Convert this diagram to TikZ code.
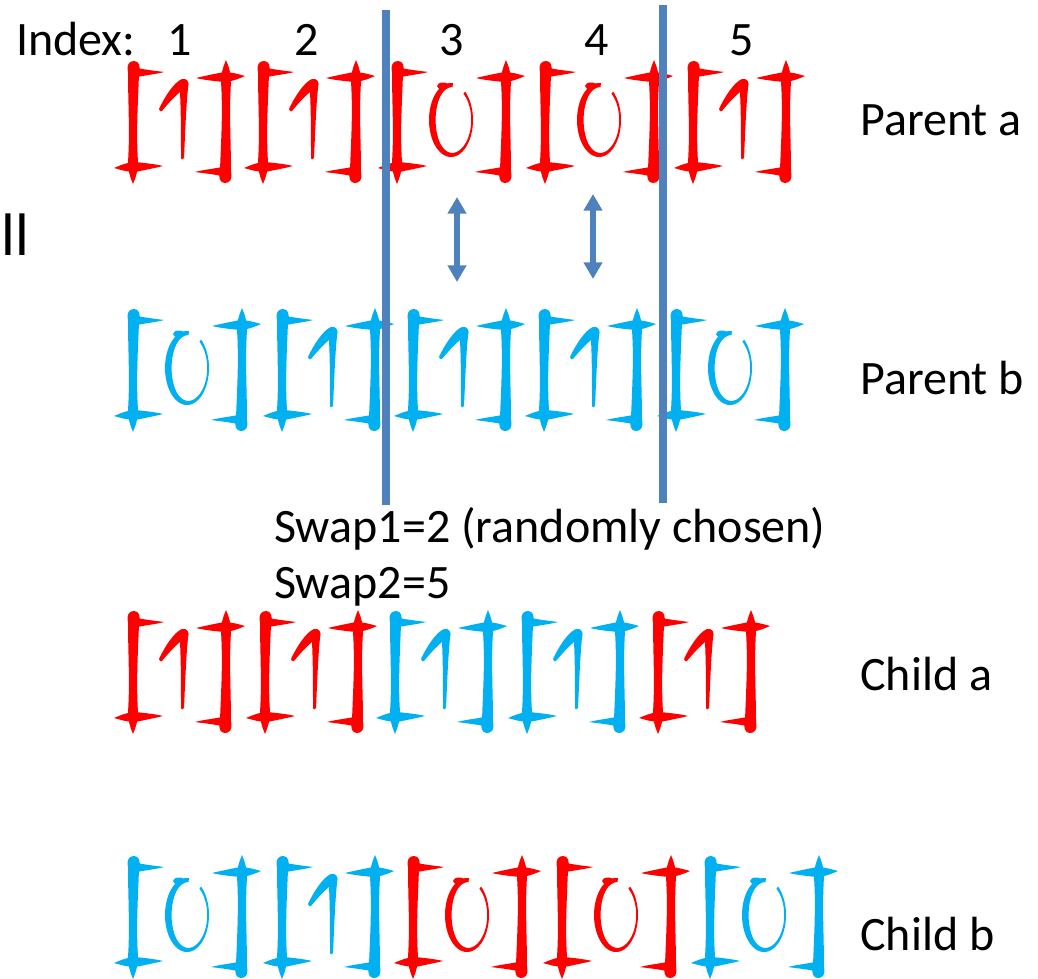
\documentclass[tikz,border=0pt]{standalone}
\usepackage{fontspec}
\setmainfont{Carlito}
\usetikzlibrary{arrows.meta}
\definecolor{bred}{HTML}{FF0000}
\definecolor{bblue}{HTML}{00B0F0}
\definecolor{lineblue}{HTML}{4F81BD}
\newcommand\brkshape{%
  \fill (-5,-50) .. controls (-7,-58) and (-3,-61) .. (1,-61) .. controls (6,-61) and (8,-56) .. (6,-48)
    .. controls (5,-20) and (3,10) .. (5,40) .. controls (5,50) and (2,57) .. (0,62)
    .. controls (-2,57) and (-5,50) .. (-5,40) .. controls (-3,10) and (-5,-20) .. (-5,-50) -- cycle;
  \fill (4,-54) .. controls (14,-52) and (24,-51) .. (31,-50) .. controls (24,-48) and (14,-47) .. (4,-45) -- cycle;
  \fill (-19,46) .. controls (-10,42) and (-3,40) .. (2,40) .. controls (12,41) and (22,42) .. (30,44)
    .. controls (22,46) and (12,48) .. (2,50) .. controls (-5,50) and (-12,48) .. (-19,46) -- cycle;
}
\newcommand\onedigit{%
  \fill (26,-13) .. controls (31,-24) and (41,-40) .. (49,-43) .. controls (54,-44) and (57,-40) .. (55,-34)
    .. controls (53,-15) and (52,15) .. (51,36) .. controls (50,38) and (48,38) .. (48,35)
    .. controls (48,15) and (48,-10) .. (47,-30) .. controls (40,-24) and (33,-16) .. (29,-11)
    .. controls (28,-10) and (26,-11) .. (26,-13) -- cycle;
}
\newcommand\zerodigit{%
  \fill plot[domain=-410:-85, samples=70, smooth, variable=\t] ({54+22*cos(\t)},{-2+37*sin(\t)})
    -- plot[domain=-410:-85, samples=70, smooth, variable=\t]
      ({54+(22-1.8-2.4*(1-cos(-495-\t)))*cos(-495-\t)},{-2+(37-1.8-2.4*(1-cos(-495-\t)))*sin(-495-\t)}) -- cycle;
  \fill (46,-36) ellipse [x radius=6, y radius=3.5];
}
\tikzset{
  cellone/.pic={\brkshape \onedigit \begin{scope}[shift={(93,0)},rotate=180]\brkshape\end{scope}},
  cellzero/.pic={\brkshape \zerodigit \begin{scope}[shift={(109,0)},rotate=180]\brkshape\end{scope}},
  lbl/.style={font=\fontsize{36}{43}\selectfont, inner sep=0pt, anchor=base west},
  idxnum/.style={font=\fontsize{36}{43}\selectfont, inner sep=0pt, anchor=base},
  vline/.style={draw=lineblue, line width=6pt},
  swaparrow/.style={draw=lineblue, line width=5.2pt, {Triangle[width=13.5pt,length=12.5pt]}-{Triangle[width=13.5pt,length=12.5pt]}},
}
\begin{document}
\begin{tikzpicture}[x=0.75pt,y=-0.75pt]
\useasboundingbox (0,0) rectangle (1038,978);
% Parent a
\pic[bred] at (133,122) {cellone};
\pic[bred] at (263,122) {cellone};
\pic[bred] at (397,122) {cellzero};
\pic[bred] at (545,122) {cellzero};
\pic[bred] at (693,122) {cellone};
% Parent b
\pic[bblue] at (133,370) {cellzero};
\pic[bblue] at (282,370) {cellone};
\pic[bblue] at (413,370) {cellone};
\pic[bblue] at (544,370) {cellone};
\pic[bblue] at (676,370) {cellzero};
% Child a
\pic[bred] at (133,672) {cellone};
\pic[bred] at (265,672) {cellone};
\pic[bblue] at (395,672) {cellone};
\pic[bblue] at (527,672) {cellone};
\pic[bred] at (658,672) {cellone};
% Child b
\pic[bblue] at (133,917) {cellzero};
\pic[bblue] at (282,917) {cellone};
\pic[bred] at (413,917) {cellzero};
\pic[bred] at (562,917) {cellzero};
\pic[bblue] at (710,917) {cellzero};
% cut lines
\coordinate (v1t) at (386,10); \coordinate (v1b) at (386,505);
\coordinate (v2t) at (663,5); \coordinate (v2b) at (663,503);
\draw[vline] (v1t) -- (v1b);
\draw[vline] (v2t) -- (v2b);
% swap arrows
\coordinate (a1t) at (457,197); \coordinate (a1b) at (457,282);
\coordinate (a2t) at (593,194); \coordinate (a2b) at (593,279);
\draw[swaparrow] (a1t) -- (a1b);
\draw[swaparrow] (a2t) -- (a2b);
% texts
\node[lbl] (idx) at (16,55) {Index:};
\node[idxnum] (i1) at (180,55) {1};
\node[idxnum] (i2) at (307,55) {2};
\node[idxnum] (i3) at (452,55) {3};
\node[idxnum] (i4) at (597,55) {4};
\node[idxnum] (i5) at (742,55) {5};
\node[lbl, font=\fontsize{45}{50}\selectfont] (ll) at (1,255) {ll};
\node[lbl] (pa) at (860,135) {Parent a};
\node[lbl] (pb) at (860,394) {Parent b};
\node[lbl] (ca) at (860,690) {Child a};
\node[lbl] (cb) at (860,950) {Child b};
\node[lbl] (s1) at (274,542) {Swap1=2 (randomly chosen)};
\node[lbl] (s2) at (274,598) {Swap2=5};
\end{tikzpicture}
\end{document}
